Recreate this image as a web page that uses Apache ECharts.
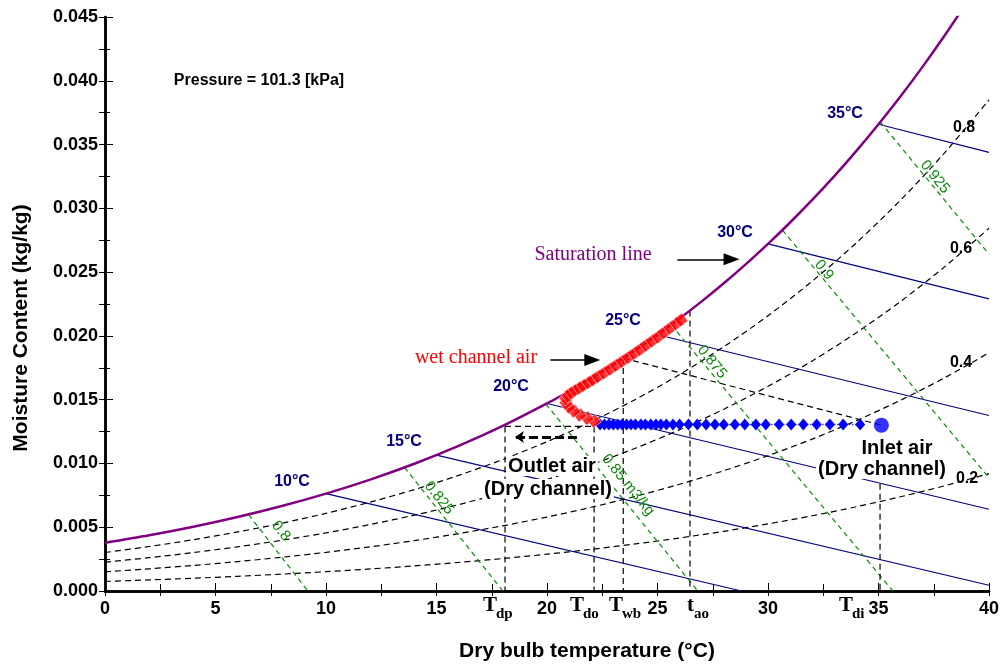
<!DOCTYPE html>
<html>
<head>
<meta charset="utf-8">
<script src="https://cdn.jsdelivr.net/npm/echarts/dist/echarts.min.js"></script>
<style>
html, body { margin: 0; padding: 0; background: #fff; }
#chart { width: 1003px; height: 668px; }
</style>
</head>
<body>
<div id="chart"></div>
<script>
var myChart = echarts.init(document.getElementById('chart'));

// dry bulb grid (°C) used by saturation / relative humidity curves
var tGrid = [0, 2, 4, 6, 8, 10, 12, 14, 16, 18, 20, 22, 24, 26, 28, 30, 32, 34, 36, 38, 40];
var rh20 = [0.000751, 0.000868, 0.001001, 0.001151, 0.001320, 0.001512, 0.001727, 0.001970, 0.002241, 0.002545, 0.002886, 0.003265, 0.003688, 0.004158, 0.004680, 0.005259, 0.005899, 0.006607, 0.007389, 0.008251, 0.009200];
var rh40 = [0.001505, 0.001739, 0.002004, 0.002306, 0.002646, 0.003031, 0.003464, 0.003952, 0.004499, 0.005112, 0.005798, 0.006564, 0.007419, 0.008372, 0.009431, 0.010607, 0.011911, 0.013357, 0.014956, 0.016724, 0.018676];
var rh60 = [0.002260, 0.002612, 0.003012, 0.003465, 0.003978, 0.004558, 0.005211, 0.005946, 0.006772, 0.007699, 0.008738, 0.009899, 0.011196, 0.012643, 0.014254, 0.016047, 0.018040, 0.020252, 0.022707, 0.025428, 0.028441];
var rh80 = [0.003017, 0.003487, 0.004022, 0.004629, 0.005315, 0.006092, 0.006967, 0.007954, 0.009063, 0.010308, 0.011705, 0.013269, 0.015018, 0.016972, 0.019151, 0.021582, 0.024288, 0.027299, 0.030649, 0.034372, 0.038508];

// saturation line
var satT = [0, 2, 4, 6, 8, 10, 12, 14, 16, 18, 20, 21, 22, 23, 24, 25, 26, 27, 28, 29, 30, 31, 32, 33, 34, 35, 36, 37, 38, 39];
var satW = [0.003776, 0.004365, 0.005036, 0.005796, 0.006658, 0.007634, 0.008734, 0.009974, 0.011370, 0.012939, 0.014701, 0.015660, 0.016675, 0.017749, 0.018886, 0.020093, 0.021360, 0.022704, 0.024125, 0.025626, 0.027213, 0.028889, 0.030659, 0.032523, 0.034503, 0.036597, 0.038789, 0.041110, 0.043567, 0.046150];

// wet bulb lines: [start, end]
var wbNames = ['10°C', '15°C', '20°C', '25°C', '30°C', '35°C'];
var wbLines = [
    [[10, 0.007634], [28.80, 0]],
    [[15, 0.010653], [40, 0.000446]],
    [[20, 0.014701], [40, 0.006407]],
    [[25, 0.020093], [40, 0.013759]],
    [[30, 0.027213], [40, 0.022900]],
    [[35, 0.036597], [40, 0.034385]]
];

// specific volume lines (m3/kg)
var svNames = ['0.8', '0.825', '0.85 m3/kg', '0.875', '0.9', '0.925'];
var svLines = [
    [[6.50, 0.00598], [9.18, 0]],
    [[13.55, 0.00969], [18.00, 0]],
    [[19.95, 0.01466], [26.82, 0]],
    [[25.62, 0.02087], [35.65, 0]],
    [[30.65, 0.02830], [40, 0.008876]],
    [[35.08, 0.03677], [40, 0.02640]]
];

// dry channel air (blue)
var dryT = [22.40, 22.60, 22.80, 23.00, 23.20, 23.40, 23.60, 23.80, 24.00, 24.25, 24.45, 24.70, 24.93, 25.15, 25.40, 25.70, 26.00, 26.40, 26.80, 27.20, 27.60, 28.00, 28.50, 28.95, 29.45, 29.90, 30.50, 31.05, 31.60, 32.20, 32.80, 33.40, 34.17];
var dryW = [0.01305, 0.01305, 0.01305, 0.01305, 0.01305, 0.01305, 0.01305, 0.01305, 0.01305, 0.01305, 0.01305, 0.01305, 0.01305, 0.01305, 0.01305, 0.01305, 0.01305, 0.01305, 0.01305, 0.01305, 0.01305, 0.01305, 0.01305, 0.01305, 0.01305, 0.01305, 0.01305, 0.01305, 0.01305, 0.01305, 0.01305, 0.01305, 0.01305];
var inletT = [35.13];
var inletW = [0.01300];

// wet channel air (red)
var wetT = [22.13, 21.81, 21.49, 21.22, 21.00, 20.86, 20.86, 20.95, 21.09, 21.27, 21.45, 21.63, 21.86, 22.08, 22.31, 22.58, 22.85, 23.12, 23.39, 23.67, 23.94, 24.21, 24.48, 24.75, 25.02, 25.29, 25.57, 25.84, 26.06];
var wetW = [0.01332, 0.01356, 0.01379, 0.01411, 0.01442, 0.01473, 0.01505, 0.01528, 0.01555, 0.01573, 0.01592, 0.01610, 0.01633, 0.01656, 0.01681, 0.01710, 0.01739, 0.01769, 0.01799, 0.01831, 0.01862, 0.01894, 0.01927, 0.01959, 0.01992, 0.02026, 0.02062, 0.02096, 0.02124];

// construction lines for the state points
var guideLines = [
    [[18.10, 0.01290], [18.10, 0]],          // Tdp
    [[18.10, 0.01290], [22.13, 0.01290]],
    [[22.13, 0.01290], [22.13, 0]],          // Tdo
    [[23.45, 0.01826], [23.45, 0]],          // Twb
    [[23.45, 0.01826], [35.13, 0.01300]],
    [[26.47, 0.02199], [26.47, 0]],          // tao
    [[35.07, 0.00840], [35.07, 0]]           // Tdi
];

function pairs(xs, ys) {
    return xs.map(function (x, i) { return [x, ys[i]]; });
}

var series = [];

[rh20, rh40, rh60, rh80].forEach(function (w) {
    series.push({
        type: 'line', data: pairs(tGrid, w), symbol: 'none', smooth: 0.3,
        lineStyle: { color: '#000', width: 1.2, type: [6, 4] }, z: 2
    });
});

wbLines.forEach(function (l) {
    series.push({
        type: 'line', data: l, symbol: 'none',
        lineStyle: { color: '#000080', width: 1.1 }, z: 2
    });
});

svLines.forEach(function (l) {
    series.push({
        type: 'line', data: l, symbol: 'none',
        lineStyle: { color: '#0c8a0c', width: 1.2, type: [5, 4] }, z: 2
    });
});

guideLines.forEach(function (l) {
    series.push({
        type: 'line', data: l, symbol: 'none',
        lineStyle: { color: '#000', width: 1.2, type: [6, 4] }, z: 3
    });
});

series.push({
    type: 'line', data: pairs(satT, satW), symbol: 'none', smooth: 0.3,
    lineStyle: { color: '#800080', width: 2.5 }, z: 4
});

// arrows
series.push({
    type: 'line', data: [], symbol: 'none',
    markLine: {
        silent: true, animation: false,
        symbol: ['none', 'triangle'], symbolSize: [12, 16],
        label: { show: false },
        lineStyle: { color: '#000', width: 1.5, type: 'solid' },
        data: [
            [{ coord: [25.90, 0.0260] }, { coord: [28.35, 0.0260] }],
            [{ coord: [20.15, 0.0181] }, { coord: [22.05, 0.0181] }]
        ]
    }
});
series.push({
    type: 'line', data: [], symbol: 'none',
    markLine: {
        silent: true, animation: false,
        symbol: ['none', 'arrow'], symbolSize: [9, 9],
        label: { show: false },
        lineStyle: { color: '#000', width: 3, type: [9, 4] },
        data: [
            [{ coord: [21.36, 0.01207] }, { coord: [18.55, 0.01207] }]
        ]
    }
});

series.push({
    type: 'line', data: pairs(dryT, dryW), symbol: 'diamond', symbolSize: [10, 12],
    itemStyle: { color: '#0000ff' },
    lineStyle: { color: '#3a3aff', width: 1.5, type: 'dotted' }, z: 6
});
series.push({
    type: 'scatter', data: pairs(inletT, inletW), symbol: 'circle', symbolSize: 15,
    itemStyle: { color: '#0000ff' }, z: 6
});
series.push({
    type: 'scatter', data: pairs(wetT, wetW), symbol: 'rect', symbolSize: 10, symbolRotate: 37,
    itemStyle: { color: '#ff0000', borderColor: '#fff', borderWidth: 0.6 }, z: 7
});

var sans = '"Liberation Sans", Arial, sans-serif';
var serif = '"Liberation Serif", "Times New Roman", serif';

function txt(x, y, s, size, weight, color, family, extra) {
    var st = { text: s, fontSize: size, fontWeight: weight, fontFamily: family, fill: color, align: 'center', verticalAlign: 'middle' };
    if (extra) { for (var k in extra) { st[k] = extra[k]; } }
    return { type: 'text', x: x, y: y, z: 100, style: st };
}

var graphics = [
    txt(259, 81, 'Pressure = 101.3 [kPa]', 16, 'bold', '#000', sans),
    txt(587, 651, 'Dry bulb temperature (°C)', 21, 'bold', '#000', sans),
    { type: 'text', x: 21, y: 328, rotation: Math.PI / 2, z: 100,
      style: { text: 'Moisture Content (kg/kg)', fontSize: 21, fontWeight: 'bold', fontFamily: sans, fill: '#000', align: 'center', verticalAlign: 'middle' } },
    txt(593, 255, 'Saturation line', 20, 'normal', '#800080', serif),
    txt(476, 358, 'wet channel air', 20, 'normal', '#ff0000', serif),
    txt(552, 466, 'Outlet air', 20, 'bold', '#000', sans, { backgroundColor: '#fff', padding: [0, 2] }),
    txt(548, 489, '(Dry channel)', 20, 'bold', '#000', sans, { backgroundColor: '#fff', padding: [0, 2] }),
    txt(897, 448, 'Inlet air', 20, 'bold', '#000', sans, { backgroundColor: '#fff', padding: [0, 2] }),
    txt(882, 469, '(Dry channel)', 20, 'bold', '#000', sans, { backgroundColor: '#fff', padding: [0, 2] })
];

// wet bulb labels
var wbLabelPos = [[292, 482], [404, 442], [511, 387], [623, 321], [735, 233], [845, 114]];
wbNames.forEach(function (n, i) {
    graphics.push(txt(wbLabelPos[i][0], wbLabelPos[i][1], n, 16, 'bold', '#000080', sans));
});

// relative humidity labels
var rhNames = ['0.8', '0.6', '0.4', '0.2'];
var rhLabelPos = [[964, 128], [961, 249], [961, 363], [967, 479]];
rhNames.forEach(function (n, i) {
    graphics.push(txt(rhLabelPos[i][0], rhLabelPos[i][1], n, 16, 'bold', '#000', sans));
});

// specific volume labels
var svLabelPos = [[281, 531], [439, 498], [628, 485], [712, 362], [824, 270], [935, 177]];
svNames.forEach(function (n, i) {
    graphics.push({ type: 'text', x: svLabelPos[i][0], y: svLabelPos[i][1], rotation: -51 * Math.PI / 180, z: 100,
        style: { text: n, fontSize: 15, fontFamily: sans, fill: '#0c8a0c', align: 'center', verticalAlign: 'middle' } });
});

// state temperature labels under the axis
var stateMain = ['T', 'T', 'T', 't', 'T'];
var stateSub = ['dp', 'do', 'wb', 'ao', 'di'];
var stateLeft = [483, 570, 609, 687, 839];
var stateSubLeft = [496, 583, 622, 694, 852];
stateMain.forEach(function (m, i) {
    graphics.push({ type: 'text', x: stateLeft[i], y: 606, z: 100,
        style: { text: m, fontSize: 21, fontWeight: 'bold', fontFamily: serif, fill: '#000', align: 'left', verticalAlign: 'middle' } });
    graphics.push({ type: 'text', x: stateSubLeft[i], y: 614, z: 100,
        style: { text: stateSub[i], fontSize: 15, fontWeight: 'bold', fontFamily: serif, fill: '#000', align: 'left', verticalAlign: 'middle' } });
});

var axisLine = { show: true, lineStyle: { color: '#000', width: 2.5 } };

option = {
    animation: false,
    backgroundColor: '#fff',
    grid: { left: 105, right: 14, top: 17, bottom: 77, containLabel: false },
    xAxis: [{
        type: 'value', min: 0, max: 40, interval: 5, position: 'bottom',
        axisLine: axisLine,
        axisTick: { inside: true, length: 8, lineStyle: { color: '#000', width: 1 } },
        minorTick: { show: true, splitNumber: 2, length: 7, lineStyle: { color: '#000', width: 1 } },
        splitLine: { show: false },
        axisLabel: { margin: 9, fontSize: 18, fontWeight: 'bold', fontFamily: sans, color: '#000' }
    }, {
        type: 'value', min: 0, max: 40, interval: 2.5, position: 'top',
        axisLine: axisLine,
        axisTick: { inside: true, length: 5, lineStyle: { color: '#000', width: 1 } },
        splitLine: { show: false },
        axisLabel: { show: false }
    }],
    yAxis: [{
        type: 'value', min: 0, max: 0.045, interval: 0.005, position: 'left',
        axisLine: axisLine,
        axisTick: { inside: true, length: 8, lineStyle: { color: '#000', width: 1 } },
        minorTick: { show: true, splitNumber: 2, length: 5, lineStyle: { color: '#000', width: 1 } },
        splitLine: { show: false },
        axisLabel: {
            margin: 7, fontSize: 18, fontWeight: 'bold', fontFamily: sans, color: '#000',
            formatter: function (v) { return v.toFixed(3); }
        }
    }, {
        type: 'value', min: 0, max: 0.045, interval: 0.0025, position: 'right',
        axisLine: axisLine,
        axisTick: { inside: true, length: 6, lineStyle: { color: '#000', width: 1 } },
        splitLine: { show: false },
        axisLabel: { show: false }
    }],
    graphic: graphics,
    series: series
};

myChart.setOption(option);
</script>
</body>
</html>
